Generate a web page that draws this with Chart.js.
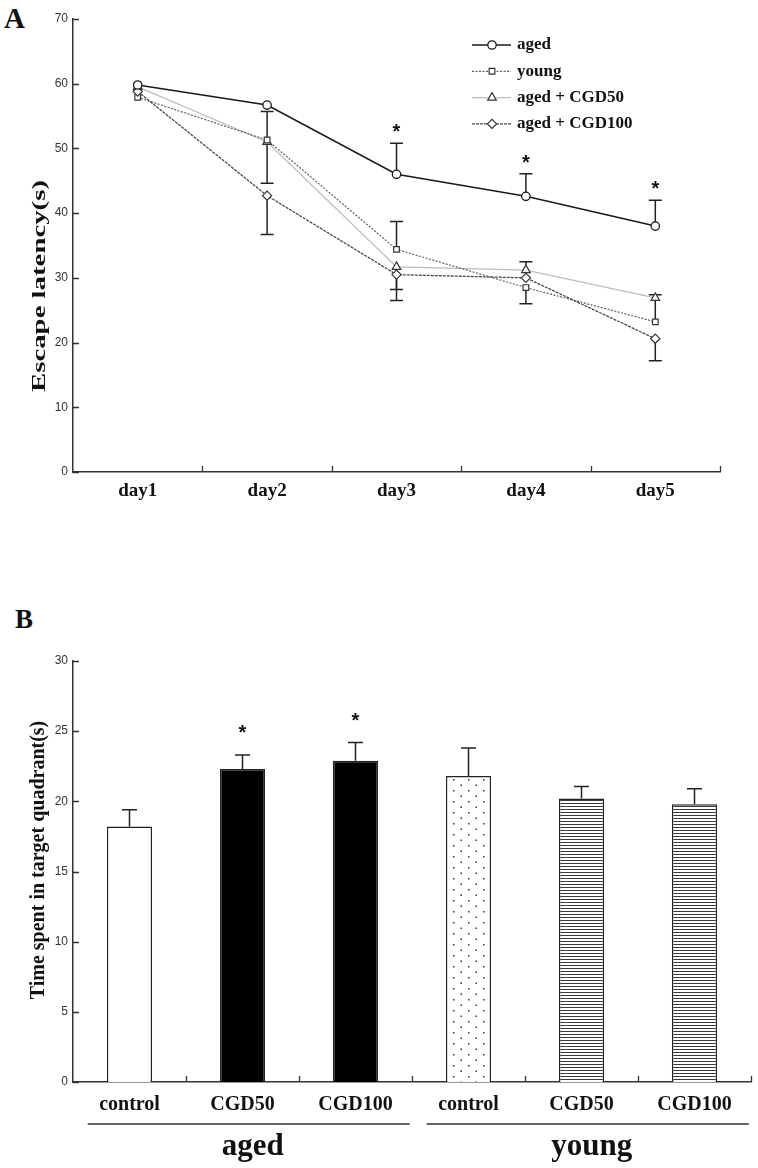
<!DOCTYPE html>
<html><head><meta charset="utf-8">
<script src="https://cdn.jsdelivr.net/npm/chart.js@4.4.1/dist/chart.umd.min.js"></script>
<style>
html,body{margin:0;padding:0;background:#fff;}
#wrap{position:relative;width:758px;height:1168px;overflow:hidden;background:#fff;}
.panel{position:absolute;left:0;}
.lab{position:absolute;font-family:'Liberation Serif','Times New Roman',serif;font-weight:bold;color:#111;line-height:1;}
</style></head><body>
<div id="wrap">
<div class="lab" style="left:4px;top:4px;font-size:29px;">A</div>
<div class="lab" style="left:15px;top:606px;font-size:27px;">B</div>
<div class="panel" style="top:0;"><canvas id="cA" width="758" height="540"></canvas></div>
<div class="panel" style="top:590px;"><canvas id="cB" width="758" height="578"></canvas></div>
</div>
<script>
// ---------- Panel A data ----------
const days = ['day1', 'day2', 'day3', 'day4', 'day5'];
const seriesNames = ['aged', 'young', 'aged + CGD50', 'aged + CGD100'];
const aged = [59.8, 56.7, 46.0, 42.6, 38.0];
const young = [57.9, 51.3, 34.4, 28.5, 23.2];
const agedCGD50 = [59.5, 51.0, 31.7, 31.2, 26.9];
const agedCGD100 = [58.8, 42.7, 30.5, 30.0, 20.6];
const agedErrUp = [null, null, 4.8, 3.5, 4.0];
const youngErrUp = [null, 4.4, 4.3, null, 4.2];
const youngErrDown = [null, null, null, 2.5, null];
const cgd50ErrUp = [null, null, null, 1.3, null];
const cgd50ErrDown = [null, 6.4, 5.2, null, null];
const cgd100ErrDown = [null, 6.0, 2.3, null, 3.4];
const sigA = [false, false, true, true, true];
const yTicksA = [0, 10, 20, 30, 40, 50, 60, 70];

// ---------- Panel B data ----------
const groupsB = ['control', 'CGD50', 'CGD100', 'control', 'CGD50', 'CGD100'];
const groupNames = ['aged', 'young'];
const timeB = [18.2, 22.3, 22.9, 21.8, 20.2, 19.8];
const timeErrB = [1.2, 1.0, 1.3, 2.0, 0.85, 1.1];
const sigB = [false, true, true, false, false, false];
const yTicksB = [0, 5, 10, 15, 20, 25, 30];

const SERIF = "'Liberation Serif','Times New Roman',serif";
const SANS = "'Liberation Sans',Arial,sans-serif";
const AXIS = '#333';

// inward tick marks
const inwardTicks = {
  id: 'inwardTicks',
  afterDraw(chart) {
    const {ctx, chartArea: ca, scales: {x, y}} = chart;
    ctx.save();
    ctx.strokeStyle = AXIS; ctx.lineWidth = 1.3;
    ctx.beginPath();
    y.ticks.forEach(t => { const py = Math.round(y.getPixelForValue(t.value)) + 0.5; ctx.moveTo(ca.left, py); ctx.lineTo(ca.left + 6, py); });
    const n = chart.data.labels.length;
    for (let i = 1; i <= n; i++) {
      let px = i < n ? (x.getPixelForValue(i - 1) + x.getPixelForValue(i)) / 2 : ca.right;
      px = Math.round(px) + 0.5;
      ctx.moveTo(px, ca.bottom); ctx.lineTo(px, ca.bottom - 6);
    }
    ctx.stroke();
    ctx.restore();
  }
};

function drawStar(ctx, x, y, size) {
  ctx.save();
  ctx.font = 'bold ' + size + 'px ' + SANS;
  ctx.fillStyle = '#111';
  ctx.textAlign = 'center'; ctx.textBaseline = 'middle';
  ctx.fillText('*', x, y + size * 0.28);
  ctx.restore();
}

function drawRotTitle(ctx, text, x, y, size, stretch) {
  ctx.save();
  ctx.translate(x, y);
  ctx.rotate(-Math.PI / 2);
  ctx.scale(stretch, 1);
  ctx.font = 'bold ' + size + 'px ' + SERIF;
  ctx.fillStyle = '#111';
  ctx.textAlign = 'center'; ctx.textBaseline = 'middle';
  ctx.fillText(text, 0, 0);
  ctx.restore();
}

// ---------- Panel A plugins ----------
const errA = {
  id: 'errA',
  beforeDatasetsDraw(chart) {
    const {ctx, scales: {x, y}} = chart;
    const sets = [
      [aged, agedErrUp, 1], [young, youngErrUp, 1], [young, youngErrDown, -1],
      [agedCGD50, cgd50ErrUp, 1], [agedCGD50, cgd50ErrDown, -1], [agedCGD100, cgd100ErrDown, -1]
    ];
    ctx.save();
    ctx.strokeStyle = '#222'; ctx.lineWidth = 1.5;
    sets.forEach(([vals, errs, dir]) => {
      errs.forEach((e, i) => {
        if (e == null) return;
        const px = x.getPixelForValue(i);
        const p0 = y.getPixelForValue(vals[i]);
        const p1 = y.getPixelForValue(vals[i] + dir * e);
        ctx.beginPath();
        ctx.moveTo(px, p0); ctx.lineTo(px, p1);
        ctx.moveTo(px - 6.5, p1); ctx.lineTo(px + 6.5, p1);
        ctx.stroke();
      });
    });
    ctx.restore();
  },
  afterDatasetsDraw(chart) {
    const {ctx, scales: {x, y}} = chart;
    sigA.forEach((s, i) => {
      if (!s) return;
      const top = y.getPixelForValue(aged[i] + (agedErrUp[i] || 0));
      drawStar(ctx, x.getPixelForValue(i), top - 16, 20);
    });
  }
};

const legendA = {
  id: 'legendA',
  afterDraw(chart) {
    const {ctx, chartArea: ca} = chart;
    const x0 = ca.right - 248, y0 = ca.top + 26, dy = 26.3;
    chart.data.datasets.forEach((ds, k) => {
      const yy = y0 + k * dy;
      ctx.save();
      ctx.strokeStyle = ds.borderColor; ctx.lineWidth = ds.borderWidth;
      ctx.setLineDash(ds.borderDash || []);
      ctx.beginPath(); ctx.moveTo(x0, yy); ctx.lineTo(x0 + 39, yy); ctx.stroke();
      ctx.setLineDash([]);
      ctx.fillStyle = ds.pointBackgroundColor; ctx.strokeStyle = ds.pointBorderColor; ctx.lineWidth = ds.pointBorderWidth;
      Chart.helpers.drawPoint(ctx, {pointStyle: ds.pointStyle, radius: ds.pointRadius, rotation: 0, borderWidth: ds.pointBorderWidth}, x0 + 20, yy);
      ctx.font = 'bold 17px ' + SERIF;
      ctx.fillStyle = '#111'; ctx.textAlign = 'left'; ctx.textBaseline = 'middle';
      ctx.fillText(ds.label, x0 + 45, yy);
      ctx.restore();
    });
    drawRotTitle(ctx, 'Escape latency(s)', 40, 286, 18, 1.6);
  }
};

const colorsA = ['#1a1a1a', '#5e5e5e', '#bdbdbd', '#4a4a4a'];
new Chart(document.getElementById('cA'), {
  type: 'line',
  data: {
    labels: days,
    datasets: [
      {label: seriesNames[0], data: aged, borderColor: colorsA[0], borderWidth: 1.6, pointStyle: 'circle', pointRadius: 4.2, pointBorderWidth: 1.3, pointBackgroundColor: '#fff', pointBorderColor: '#1a1a1a', order: 0},
      {label: seriesNames[1], data: young, borderColor: colorsA[1], borderWidth: 1.2, borderDash: [2, 1.5], pointStyle: 'rect', pointRadius: 4, pointBorderWidth: 1.2, pointBackgroundColor: '#fff', pointBorderColor: '#333', order: 2},
      {label: seriesNames[2], data: agedCGD50, borderColor: colorsA[2], borderWidth: 1.3, pointStyle: 'triangle', pointRadius: 5, pointBorderWidth: 1.2, pointBackgroundColor: '#fff', pointBorderColor: '#333', order: 3},
      {label: seriesNames[3], data: agedCGD100, borderColor: colorsA[3], borderWidth: 1.3, borderDash: [3, 1], pointStyle: 'rectRot', pointRadius: 4.6, pointBorderWidth: 1.2, pointBackgroundColor: '#fff', pointBorderColor: '#333', order: 1}
    ]
  },
  options: {
    responsive: false, animation: false,
    layout: {padding: {left: 0, right: 38, top: 19, bottom: 0}},
    plugins: {legend: {display: false}, tooltip: {enabled: false}},
    elements: {line: {tension: 0}},
    scales: {
      x: {
        offset: true,
        grid: {display: false, drawTicks: false, offset: true},
        border: {color: AXIS, width: 1.5},
        ticks: {font: {family: SERIF, size: 19, weight: 'bold'}, color: '#111', padding: 8, autoSkip: false, maxRotation: 0},
        afterFit(s) { s.height = 68; }
      },
      y: {
        min: 0, max: 70,
        afterBuildTicks(s) { s.ticks = yTicksA.map(v => ({value: v})); },
        grid: {display: false, drawTicks: false},
        border: {color: AXIS, width: 1.5},
        ticks: {font: {family: SANS, size: 12}, color: '#333', padding: 5},
        afterFit(s) { s.width = 73; }
      }
    }
  },
  plugins: [inwardTicks, errA, legendA]
});

// ---------- Panel B ----------
function dotPattern() {
  const c = document.createElement('canvas'); c.width = 15; c.height = 11;
  const g = c.getContext('2d');
  g.fillStyle = '#fff'; g.fillRect(0, 0, 15, 11);
  g.fillStyle = '#333';
  g.fillRect(3, 2, 1.5, 1.5); g.fillRect(10.5, 7.5, 1.5, 1.5);
  return g.createPattern(c, 'repeat');
}
function stripePattern() {
  const c = document.createElement('canvas'); c.width = 4; c.height = 3;
  const g = c.getContext('2d');
  g.fillStyle = '#fff'; g.fillRect(0, 0, 4, 3);
  g.fillStyle = '#3a3a3a'; g.fillRect(0, 0, 4, 1);
  return g.createPattern(c, 'repeat');
}
const ctxB = document.getElementById('cB').getContext('2d');
const fillsB = ['#fff', '#000', '#000', dotPattern(), stripePattern(), stripePattern()];

const errB = {
  id: 'errB',
  afterDatasetsDraw(chart) {
    const {ctx, scales: {x, y}} = chart;
    ctx.save();
    ctx.strokeStyle = '#222'; ctx.lineWidth = 1.5;
    timeB.forEach((v, i) => {
      const px = x.getPixelForValue(i);
      const p0 = y.getPixelForValue(v), p1 = y.getPixelForValue(v + timeErrB[i]);
      ctx.beginPath(); ctx.moveTo(px, p0); ctx.lineTo(px, p1);
      ctx.moveTo(px - 7.5, p1); ctx.lineTo(px + 7.5, p1); ctx.stroke();
      if (sigB[i]) drawStar(ctx, px, p1 - 27, 20);
    });
    ctx.restore();
  },
  afterDraw(chart) {
    const {ctx, scales: {x}} = chart;
    const cw = x.getPixelForValue(1) - x.getPixelForValue(0);
    ctx.save();
    groupNames.forEach((name, g) => {
      const l = x.getPixelForValue(g * 3) - 0.37 * cw;
      const r = x.getPixelForValue(g * 3 + 2) + 0.48 * cw;
      ctx.strokeStyle = AXIS; ctx.lineWidth = 1.5;
      ctx.beginPath(); ctx.moveTo(l, 534); ctx.lineTo(r, 534); ctx.stroke();
      ctx.font = 'bold 31px ' + SERIF; ctx.fillStyle = '#111';
      ctx.textAlign = 'center'; ctx.textBaseline = 'middle';
      ctx.fillText(name, (l + r) / 2 + 4, 557);
    });
    ctx.restore();
    drawRotTitle(ctx, 'Time spent in target quadrant(s)', 39, 270, 20, 1.0);
  }
};

new Chart(ctxB, {
  type: 'bar',
  data: {
    labels: groupsB,
    datasets: [{data: timeB, backgroundColor: fillsB, borderColor: '#222', borderWidth: 1.5, barPercentage: 0.4, categoryPercentage: 1}]
  },
  options: {
    responsive: false, animation: false,
    layout: {padding: {left: 0, right: 7, top: 71, bottom: 0}},
    plugins: {legend: {display: false}, tooltip: {enabled: false}},
    scales: {
      x: {
        grid: {display: false, drawTicks: false},
        border: {color: AXIS, width: 1.5},
        ticks: {font: {family: SERIF, size: 20, weight: 'bold'}, color: '#111', padding: 11, autoSkip: false, maxRotation: 0},
        afterFit(s) { s.height = 86; }
      },
      y: {
        min: 0, max: 30,
        afterBuildTicks(s) { s.ticks = yTicksB.map(v => ({value: v})); },
        grid: {display: false, drawTicks: false},
        border: {color: AXIS, width: 1.5},
        ticks: {font: {family: SANS, size: 12}, color: '#333', padding: 5},
        afterFit(s) { s.width = 73; }
      }
    }
  },
  plugins: [inwardTicks, errB]
});
</script>
</body></html>
